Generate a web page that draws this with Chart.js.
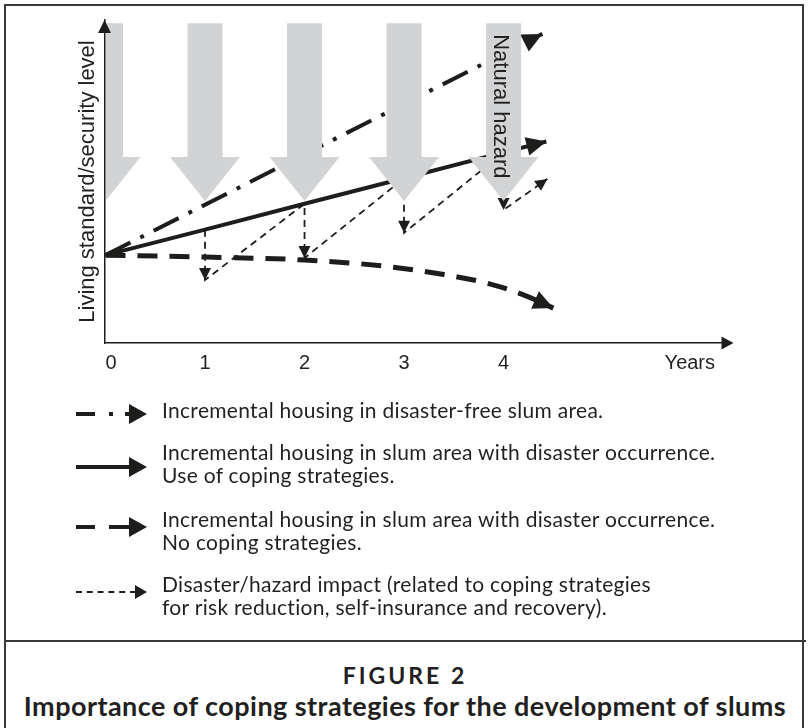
<!DOCTYPE html>
<html>
<head>
<meta charset="utf-8">
<script src="https://cdn.jsdelivr.net/npm/chart.js@4"></script>
<style>
  html,body{margin:0;padding:0;background:#fff;}
  #wrap{position:relative;width:810px;height:728px;overflow:hidden;background:#fff;}
  #frame{position:absolute;left:4px;top:4px;width:800px;height:740px;border-left:2px solid #3a3a3a;border-right:2px solid #3a3a3a;border-top:2px solid #3a3a3a;box-sizing:border-box;}
  #sep{position:absolute;left:4px;top:640px;width:802px;height:0;border-top:2px solid #3a3a3a;}
  #c{position:absolute;left:0;top:0;}
  .lg{position:absolute;left:162px;font-family:Lato,"Noto Sans",sans-serif;font-size:21px;letter-spacing:0.3px;line-height:23px;color:#231f20;white-space:nowrap;}
  #legsvg{position:absolute;left:0;top:0;}
  .cap{position:absolute;left:0;width:810px;text-align:center;font-family:Lato,"Noto Sans",sans-serif;font-weight:bold;color:#231f20;white-space:nowrap;}
</style>
</head>
<body>
<div id="wrap">
  <div id="frame"></div>
  <div id="sep"></div>
  <canvas id="c" width="810" height="385"></canvas>
  <svg id="legsvg" width="810" height="640" xmlns="http://www.w3.org/2000/svg">
    <g fill="#1d1d1b" stroke="none">
      <rect x="76" y="412" width="19" height="4"/>
      <rect x="109" y="412" width="4" height="4"/>
      <rect x="125" y="412" width="6" height="4"/>
      <polygon points="129,404 147,414 129,424"/>
      <rect x="76" y="465" width="55" height="4"/>
      <polygon points="129,457 147,467 129,477"/>
      <rect x="76" y="525" width="19" height="4"/>
      <rect x="109" y="525" width="22" height="4"/>
      <polygon points="129,517 147,527 129,537"/>
      <line x1="76" y1="592" x2="136" y2="592" stroke="#1d1d1b" stroke-width="2" stroke-dasharray="6 4.8"/>
      <polygon points="135,585 147,592 135,599"/>
    </g>
  </svg>
  <div class="lg" style="top:398px">Incremental housing in disaster-free slum area.</div>
  <div class="lg" style="top:440px">Incremental housing in slum area with disaster occurrence.<br>Use of coping strategies.</div>
  <div class="lg" style="top:507px">Incremental housing in slum area with disaster occurrence.<br>No coping strategies.</div>
  <div class="lg" style="top:572px">Disaster/hazard impact (related to coping strategies<br>for risk reduction, self-insurance and recovery).</div>
  <div class="cap" style="top:660px;font-size:23px;letter-spacing:3px;line-height:30px;">FIGURE 2</div>
  <div class="cap" style="top:691px;font-size:27px;letter-spacing:0.45px;line-height:30px;">Importance of coping strategies for the development of slums</div>
</div>
<script>
// ---- data (x in years, y in living-standard units 0..100) ----
const xTickValues = [0, 1, 2, 3, 4, 6.125];
const xTickLabels = ['0', '1', '2', '3', '4', 'Years'];
const yTitle = 'Living standard/security level';

const disasterFreeX = [0, 4.39];
const disasterFreeY = [27.2, 95.7];

const copingX = [0, 1, 2, 3, 4, 4.43];
const copingY = [27.2, 35.1, 43.1, 51.0, 59.0, 62.4];

const noCopingX = [0, 1, 2, 2.8, 3.4, 3.85, 4.2, 4.5];
const noCopingY = [27.2, 26.6, 25.7, 23.8, 21.2, 18.4, 14.9, 10.8];

const impactX = [1, 1, 2, 2, 3, 3, 4, 4, 4.44];
const impactY = [35.1, 19.5, 43.1, 26.3, 51.0, 34.1, 59.0, 41.2, 50.8];

const hazardYears = [0, 1, 2, 3, 4];
const hazardTop = 99.0;   // top of shaft
const hazardBase = 57.6;  // start of head
const hazardTip = 44.0;   // tip of head
const hazardLabel = 'Natural hazard';

// ---- helpers ----
const INK = '#1d1d1b';
const pts = (xs, ys) => xs.map((x, i) => ({x, y: ys[i]}));

function arrowHead(ctx, fromX, fromY, tipX, tipY, len, width) {
  const a = Math.atan2(tipY - fromY, tipX - fromX);
  const bx = tipX - len * Math.cos(a), by = tipY - len * Math.sin(a);
  const nx = -Math.sin(a) * width / 2, ny = Math.cos(a) * width / 2;
  ctx.beginPath();
  ctx.moveTo(tipX, tipY);
  ctx.lineTo(bx + nx, by + ny);
  ctx.lineTo(bx - nx, by - ny);
  ctx.closePath();
  ctx.fill();
}

const decorPlugin = {
  id: 'decor',
  afterDatasetsDraw(chart) {
    const ctx = chart.ctx, xs = chart.scales.x, ys = chart.scales.y, ca = chart.chartArea;
    ctx.save();
    ctx.fillStyle = INK;
    const mainSets = [[disasterFreeX, disasterFreeY], [copingX, copingY], [noCopingX, noCopingY]];
    mainSets.forEach(([X, Y]) => {
      const n = X.length;
      const tx = xs.getPixelForValue(X[n - 1]), ty = ys.getPixelForValue(Y[n - 1]);
      const px = xs.getPixelForValue(X[n - 2]), py = ys.getPixelForValue(Y[n - 2]);
      arrowHead(ctx, px, py, tx, ty, 20, 19);
    });
    {
      const tx = xs.getPixelForValue(copingX[0]), ty = ys.getPixelForValue(copingY[0]);
      const px = xs.getPixelForValue(copingX[1]), py = ys.getPixelForValue(copingY[1]);
      arrowHead(ctx, px, py, tx, ty, 17, 9);
    }
    for (let i = 1; i < impactX.length; i++) {
      const down = impactY[i] < impactY[i - 1];
      if (down || i === impactX.length - 1) {
        const tx = xs.getPixelForValue(impactX[i]), ty = ys.getPixelForValue(impactY[i]);
        const px = xs.getPixelForValue(impactX[i - 1]), py = ys.getPixelForValue(impactY[i - 1]);
        arrowHead(ctx, px, py, tx, ty, 12, 12);
      }
    }
    ctx.beginPath();
    ctx.rect(ca.left + 1.5, 0, chart.width, chart.height);
    ctx.clip();
    ctx.fillStyle = '#d1d3d4';
    hazardYears.forEach(yr => {
      const cx = xs.getPixelForValue(yr);
      const yTop = ys.getPixelForValue(hazardTop);
      const yBase = ys.getPixelForValue(hazardBase);
      const yTip = ys.getPixelForValue(hazardTip);
      const sw = 17.5, hw = 35;
      ctx.beginPath();
      ctx.moveTo(cx - sw, yTop);
      ctx.lineTo(cx + sw, yTop);
      ctx.lineTo(cx + sw, yBase);
      ctx.lineTo(cx + hw, yBase);
      ctx.lineTo(cx, yTip);
      ctx.lineTo(cx - hw, yBase);
      ctx.lineTo(cx - sw, yBase);
      ctx.closePath();
      ctx.fill();
    });
    const lx = xs.getPixelForValue(hazardYears[hazardYears.length - 1]) - 3;
    const ly = ys.getPixelForValue(hazardTop) + 11;
    ctx.translate(lx, ly);
    ctx.rotate(Math.PI / 2);
    ctx.fillStyle = '#231f20';
    ctx.font = '22px "Liberation Sans", Arial, sans-serif';
    ctx.textAlign = 'left';
    ctx.textBaseline = 'middle';
    ctx.fillText(hazardLabel, 0, 0);
    ctx.restore();
  },
  afterDraw(chart) {
    const ctx = chart.ctx, ca = chart.chartArea;
    ctx.save();
    ctx.fillStyle = INK;
    arrowHead(ctx, ca.left, ca.top + 20, ca.left, ca.top, 13, 13);
    arrowHead(ctx, ca.right - 10, ca.bottom, ca.right + 12, ca.bottom, 12, 13);
    ctx.restore();
  }
};

const tickFont = {family: '"Liberation Sans", Arial, sans-serif', size: 20};

new Chart(document.getElementById('c'), {
  type: 'line',
  data: {
    datasets: [
      {data: pts(disasterFreeX, disasterFreeY), borderColor: INK, borderWidth: 4, borderDash: [28, 11, 4, 11], pointRadius: 0, fill: false},
      {data: pts(copingX, copingY), borderColor: INK, borderWidth: 4, pointRadius: 0, fill: false},
      {data: pts(noCopingX, noCopingY), borderColor: INK, borderWidth: 5, borderDash: [20, 12], pointRadius: 0, fill: false, cubicInterpolationMode: 'monotone'},
      {data: pts(impactX, impactY), borderColor: INK, borderWidth: 1.8, borderDash: [7, 5], pointRadius: 0, fill: false}
    ]
  },
  options: {
    responsive: false,
    animation: false,
    devicePixelRatio: 1,
    layout: {padding: {left: 74.5, right: 88.5, top: 20, bottom: 0}},
    plugins: {legend: {display: false}, tooltip: {enabled: false}},
    scales: {
      x: {
        type: 'linear', min: -0.01, max: 6.19,
        afterBuildTicks: s => { s.ticks = xTickValues.map(v => ({value: v})); },
        afterFit: s => { s.height = 42; },
        grid: {display: false, drawTicks: false},
        border: {display: true, color: INK, width: 1.5},
        ticks: {align: 'inner', padding: 8, autoSkip: false, maxRotation: 0, color: '#231f20', font: tickFont,
                callback: (v, i) => xTickLabels[i]}
      },
      y: {
        type: 'linear', min: 0, max: 100,
        afterFit: s => { s.width = 30; },
        grid: {display: false, drawTicks: false},
        border: {display: true, color: INK, width: 1.5},
        ticks: {display: false},
        title: {display: true, text: yTitle, color: '#231f20', padding: {top: 0, bottom: 0},
                font: {family: '"Liberation Sans", Arial, sans-serif', size: 22}}
      }
    }
  },
  plugins: [decorPlugin]
});
</script>
</body>
</html>
